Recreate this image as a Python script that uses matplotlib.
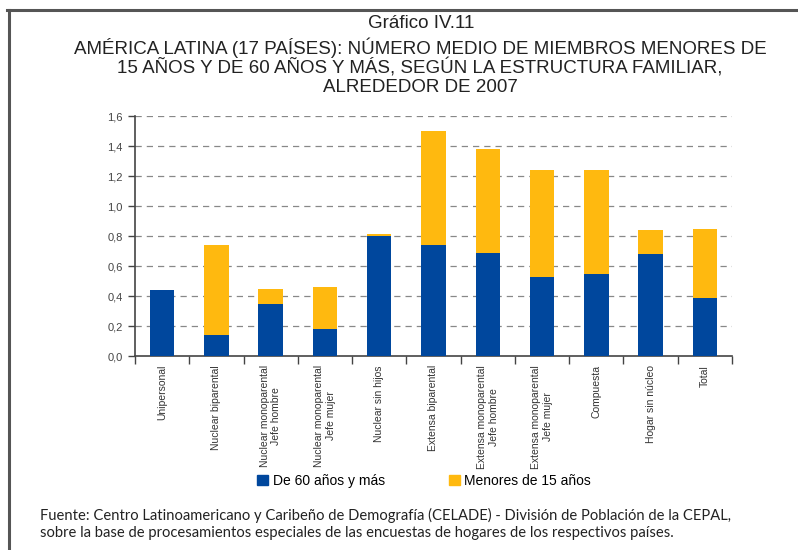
import numpy as np
import matplotlib.pyplot as plt
from matplotlib.lines import Line2D
from matplotlib.patches import Patch

categorias = ["Unipersonal", "Nuclear biparental", "Nuclear monoparental\nJefe hombre",
              "Nuclear monoparental\nJefe mujer", "Nuclear sin hijos", "Extensa biparental",
              "Extensa monoparental\nJefe hombre", "Extensa monoparental\nJefe mujer",
              "Compuesta", "Hogar sin núcleo", "Total"]
mayores60 = [0.44, 0.14, 0.35, 0.18, 0.80, 0.74, 0.69, 0.53, 0.55, 0.68, 0.39]
menores15 = [0.00, 0.60, 0.10, 0.28, 0.015, 0.76, 0.69, 0.71, 0.69, 0.16, 0.46]
yticks = [0.0, 0.2, 0.4, 0.6, 0.8, 1.0, 1.2, 1.4, 1.6]

azul = "#00479d"
amarillo = "#ffb90f"
W, H = 798, 550

fig = plt.figure(figsize=(W / 100, H / 100), dpi=100)
fig.patch.set_facecolor("white")
ax = fig.add_axes([135 / W, 1 - 356 / H, (732 - 135) / W, (356 - 116) / H])

x = np.arange(len(categorias))
ax.bar(x, mayores60, width=0.45, color=azul, zorder=3)
ax.bar(x, menores15, width=0.45, bottom=mayores60, color=amarillo, zorder=3)

ax.set_xlim(-0.5, len(categorias) - 0.5)
ax.set_ylim(0, 1.6)
ax.set_yticks(yticks)
ax.set_yticklabels([f"{v:.1f}".replace(".", ",") for v in yticks],
                   fontsize=8, color="#444444", family="Liberation Sans")
for v in yticks[1:]:
    ax.axhline(v, color="#888888", lw=0.9, ls=(0, (5, 4)), zorder=1)

# ticks at the category boundaries, labels in the centres
ax.set_xticks(np.arange(-0.5, len(categorias), 1.0))
ax.set_xticklabels([])
ax.tick_params(axis="x", length=6, width=1, color="#444444", direction="out")
ax.tick_params(axis="y", length=5, width=1, color="#444444", direction="out", pad=4)
for i, lab in enumerate(categorias):
    ax.text(i, -0.06, lab, rotation=90, ha="center", va="top", fontsize=7.5,
            color="#333333", family="Liberation Sans", multialignment="center",
            transform=ax.transData)

for s in ["top", "right"]:
    ax.spines[s].set_visible(False)
for s in ["left", "bottom"]:
    ax.spines[s].set_color("#444444")
    ax.spines[s].set_linewidth(1.2)

# title
fig.text(421 / W, 1 - 23 / H, "Gráfico IV.11", ha="center", va="center",
         fontsize=13.5, color="#222222", family="Liberation Sans")
titulo = ["AMÉRICA LATINA (17 PAÍSES): NÚMERO MEDIO DE MIEMBROS MENORES DE",
          "15 AÑOS Y DE 60 AÑOS Y MÁS, SEGÚN LA ESTRUCTURA FAMILIAR,",
          "ALREDEDOR DE 2007"]
for k, t in enumerate(titulo):
    fig.text(420 / W, 1 - (48 + 20 * k) / H, t, ha="center", va="center",
             fontsize=13.5, color="#222222", family="Liberation Sans")

# legend
handles = [Patch(color=azul, label="De 60 años y más"),
           Patch(color=amarillo, label="Menores de 15 años")]
fig.legend(handles=handles, loc="center", bbox_to_anchor=(424 / W, 1 - 481 / H), ncol=2,
           frameon=False, prop={"family": "Liberation Sans", "size": 10},
           handlelength=0.8, handleheight=0.8, handletextpad=0.3, columnspacing=4.6)

# source
fig.text(40 / W, 1 - 515 / H,
         "Fuente: Centro Latinoamericano y Caribeño de Demografía (CELADE) - División de Población de la CEPAL,",
         ha="left", va="center", fontsize=10.6, color="#222222", family="Lato")
fig.text(40 / W, 1 - 533 / H,
         "sobre la base de procesamientos especiales de las encuestas de hogares de los respectivos países.",
         ha="left", va="center", fontsize=10.6, color="#222222", family="Lato")

# frame
fig.add_artist(Line2D([7 / W, 1], [1 - 10 / H, 1 - 10 / H], color="#555555", lw=2.2))
fig.add_artist(Line2D([9 / W, 9 / W], [1 - 10 / H, 0], color="#555555", lw=2.2))

fig.savefig("out.png", dpi=100)
